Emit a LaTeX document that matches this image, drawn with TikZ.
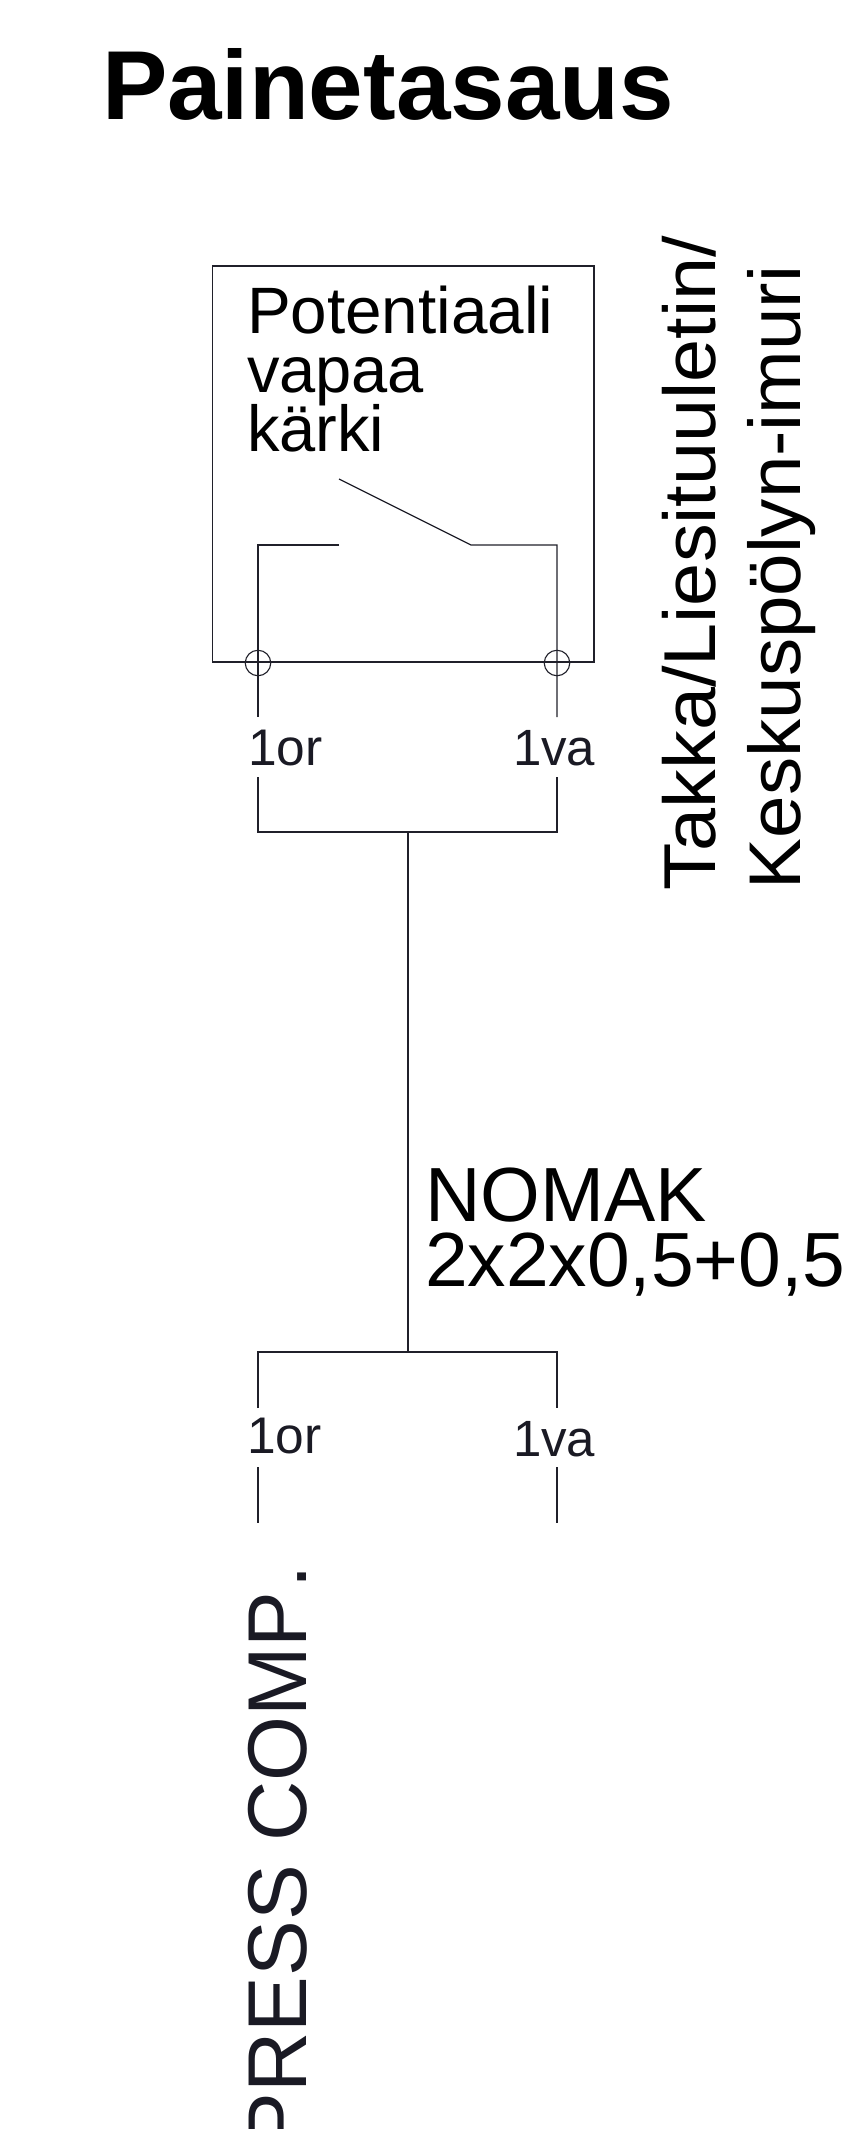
\documentclass[tikz,border=0pt]{standalone}
\usepackage{fontspec}
\setmainfont{Liberation Sans}
\definecolor{inkd}{HTML}{1A1A24}
\definecolor{wire}{HTML}{20202A}
\tikzset{
  txt/.style={inner sep=0pt,outer sep=0pt,text=black},
  wirel/.style={draw=wire,line width=1.25pt},
  term/.style={circle,draw=wire,line width=1.1pt,minimum size=25.5pt,inner sep=0pt},
  lbl/.style={txt,text=inkd,anchor=base west,font=\fontsize{51.5}{51.5}\selectfont},
}
\begin{document}
\begin{tikzpicture}[x=1pt,y=-1pt]
\useasboundingbox (0,0) rectangle (855,2129);
\node[txt,anchor=base west,font=\bfseries\fontsize{98}{98}\selectfont] (title) at (102,119) {Painetasaus};
% box
\node[draw=wire,line width=1.5pt,minimum width=381.3pt,minimum height=396pt,inner sep=0pt,anchor=north west] (box) at (211.7,265) {};
\node[txt,anchor=base west,font=\fontsize{65.6}{65.6}\selectfont] (t1) at (247,333) {Potentiaali};
\node[txt,anchor=base west,font=\fontsize{65}{65}\selectfont] (t2) at (247,392) {vapaa};
\node[txt,anchor=base west,font=\fontsize{65}{65}\selectfont] (t3) at (247,451) {kärki};
\node[txt,rotate=90,anchor=base west,font=\fontsize{77.4}{77.4}\selectfont] (tk) at (715,890) {\scalebox{1}[.95]{Takka/Liesituuletin/}};
\node[txt,rotate=90,anchor=base west,font=\fontsize{76.3}{76.3}\selectfont] (ke) at (800,889) {\scalebox{1}[.96]{Keskuspölyn-imuri}};
\node[txt,anchor=base west,font=\fontsize{76.8}{76.8}\selectfont] (n1) at (425,1221) {NOMAK};
\node[txt,anchor=base west,font=\fontsize{76.8}{76.8}\selectfont] (n2) at (425,1286) {2x2x0,5+0,5};
\node[lbl] (or1) at (248,765) {1or};
\node[lbl,font=\fontsize{51}{51}\selectfont] (va1) at (513,765) {1va};
\node[lbl] (or2) at (247,1453) {1or};
\node[lbl,font=\fontsize{51}{51}\selectfont] (va2) at (513,1456) {1va};
\node[txt,text=inkd,rotate=90,anchor=base east,font=\fontsize{83.5}{83.5}\selectfont] (pc) at (306,1565) {PRESS COMP\kern3pt.};
% terminals
\node[term] (cl) at (258,663) {};
\node[term] (cr) at (557,663) {};
% coordinates
\coordinate (swl) at (339,545);
\coordinate (swb) at (339,479);
\coordinate (swp) at (471,545);
\coordinate (tl) at (258,545);
\coordinate (tr) at (557,545);
\coordinate (a1) at (258,717);
\coordinate (a2) at (557,717);
\coordinate (b1) at (258,777);
\coordinate (b2) at (557,777);
\coordinate (c1) at (258,832);
\coordinate (c2) at (557,832);
\coordinate (cm) at (408,832);
\coordinate (dm) at (408,1352);
\coordinate (d1) at (258,1352);
\coordinate (d2) at (557,1352);
\coordinate (e1) at (258,1408);
\coordinate (e2) at (557,1408);
\coordinate (f1) at (258,1467);
\coordinate (f2) at (557,1467);
\coordinate (g1) at (258,1523);
\coordinate (g2) at (557,1523);
\draw[wirel] (swl) -- (tl) -- (a1);
\draw[wirel] (swb) -- (swp) -- (tr) -- (a2);
\draw[wirel] (b1) -- (c1) -- (c2) -- (b2);
\draw[wirel] (cm) -- (dm);
\draw[wirel] (e1) -- (d1) -- (d2) -- (e2);
\draw[wirel] (f1) -- (g1);
\draw[wirel] (f2) -- (g2);
\end{tikzpicture}
\end{document}
